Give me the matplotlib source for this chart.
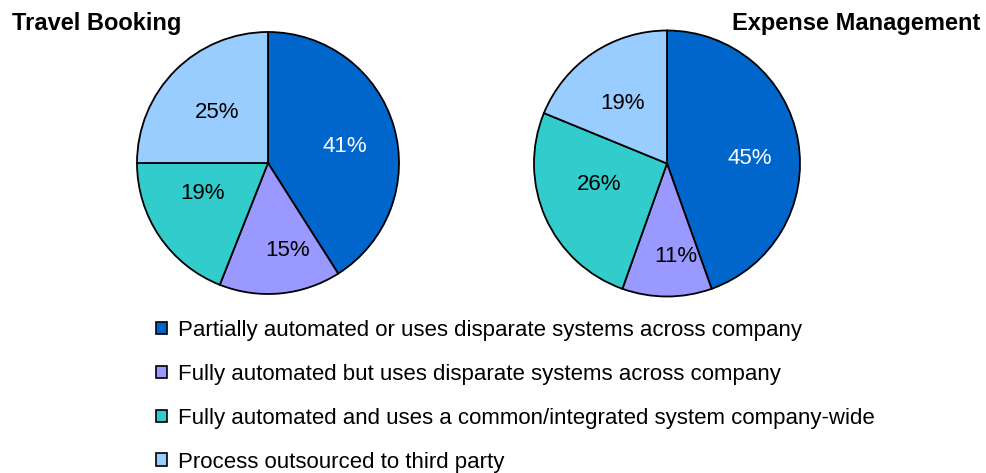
import matplotlib
matplotlib.use('Agg')
import matplotlib.pyplot as plt
from matplotlib.patches import Patch

plt.rcParams['font.family'] = ['Liberation Sans', 'DejaVu Sans']

categories = [
    'Partially automated or uses disparate systems across company',
    'Fully automated but uses disparate systems across company',
    'Fully automated and uses a common/integrated system company-wide',
    'Process outsourced to third party',
]
colors = ['#0066CC', '#9999FF', '#33CCCC', '#99CCFF']
label_colors = ['white', 'black', 'black', 'black']

travel_booking = [41, 15, 19, 25]
expense_management = [45, 11, 26, 19]

W, H = 986, 473
fig = plt.figure(figsize=(W / 100, H / 100), dpi=100)


def pie_axes(cx, cy, r):
    # square axes centred on pixel (cx, cy), radius r
    return fig.add_axes([(cx - r) / W, (H - cy - r) / H, 2 * r / W, 2 * r / H])


def draw_pie(ax, values, r, nudges):
    total = sum(values)
    _, _, pcts = ax.pie(values, colors=colors, startangle=90, counterclock=False,
                        autopct=lambda p: f'{round(p * total / 100)}%', pctdistance=0.6,
                        wedgeprops=dict(edgecolor='black', linewidth=1.3),
                        textprops=dict(fontsize=16))
    # small pixel nudges so labels sit where the original placed them
    for t, c, (dx, dy) in zip(pcts, label_colors, nudges):
        t.set_color(c)
        x, y = t.get_position()
        t.set_position((x + dx / r, y - dy / r))
    ax.set_xlim(-1.0, 1.0)
    ax.set_ylim(-1.0, 1.0)
    ax.set_aspect('auto')
    ax.axis('off')


ax1 = pie_axes(268, 163, 131)
draw_pie(ax1, travel_booking, 131, [(1, 5), (12, 9), (0, -14), (5, 5)])
ax2 = pie_axes(667, 163.5, 133)
draw_pie(ax2, expense_management, 133, [(4, 9), (9, 13), (5, -12), (0, 6)])

fig.text(12 / W, 1 - 30 / H, 'Travel Booking', fontsize=17, fontweight='bold',
         ha='left', va='baseline')
fig.text(980 / W, 1 - 30 / H, 'Expense Management', fontsize=17, fontweight='bold',
         ha='right', va='baseline')

handles = [Patch(facecolor=c, edgecolor='black', linewidth=1.2) for c in colors]
fig.legend(handles, categories, loc='upper left', bbox_to_anchor=(156 / W, 1 - 320 / H),
           frameon=False, fontsize=16, handlelength=0.5, handleheight=0.5,
           handletextpad=0.5, labelspacing=1.03, borderpad=0, borderaxespad=0)

fig.savefig('out.png', dpi=100)
